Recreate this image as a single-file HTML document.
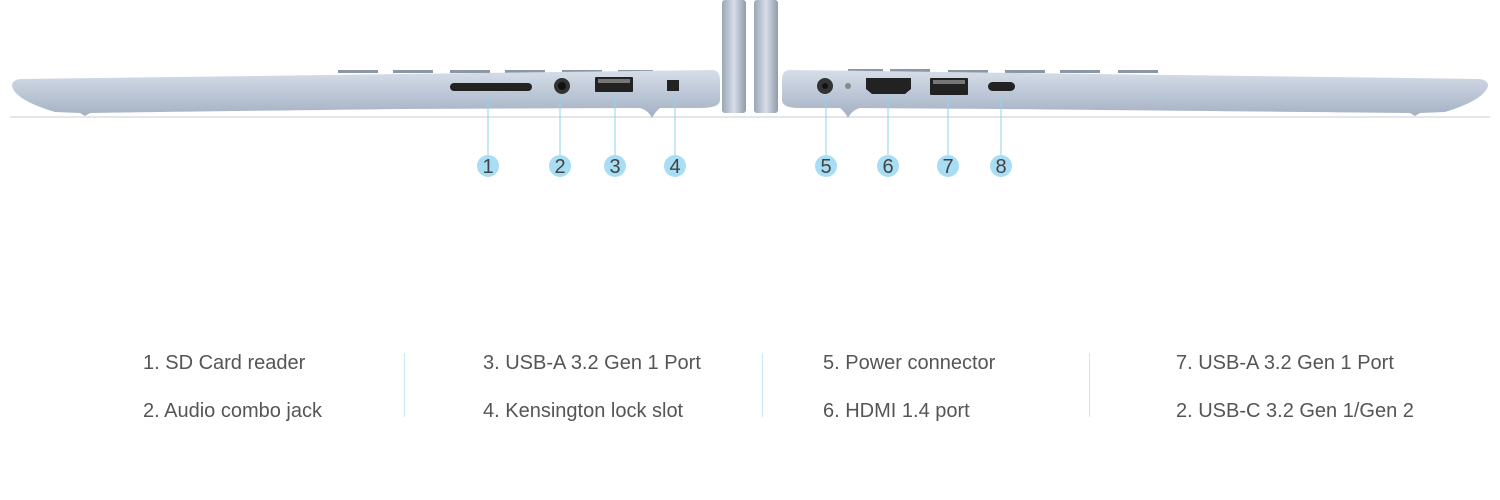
<!DOCTYPE html>
<html><head><style>
body{margin:0;width:1500px;height:500px;background:#fff;overflow:hidden;position:relative;font-family:"Liberation Sans",sans-serif}
.t{position:absolute;font-size:20px;color:#555;white-space:nowrap}
.d{position:absolute;width:1px;height:64px;top:353px;background:#c9e9f6}
</style></head><body>
<svg width="1500" height="200" style="position:absolute;left:0;top:0">
<defs>
<linearGradient id="g" x1="0" y1="0" x2="0" y2="1">
<stop offset="0" stop-color="#d6dee8"/><stop offset="0.5" stop-color="#bcc7d6"/><stop offset="1" stop-color="#a3b0c2"/></linearGradient>
<linearGradient id="l" x1="0" y1="0" x2="1" y2="0">
<stop offset="0" stop-color="#9aa6b6"/><stop offset="0.5" stop-color="#d7dee8"/><stop offset="1" stop-color="#8f9bab"/></linearGradient>
</defs>
<rect x="10" y="116" width="1480" height="2" fill="#e4e6e9"/>
<rect x="722" y="0" width="24" height="113" rx="3" fill="url(#l)"/>
<rect x="754" y="0" width="24" height="113" rx="3" fill="url(#l)"/>
<g fill="#8c97a6">
<rect x="338" y="70" width="40" height="3"/><rect x="393" y="70" width="40" height="3"/><rect x="450" y="70" width="40" height="3"/><rect x="505" y="70" width="40" height="3"/><rect x="562" y="70" width="40" height="3"/><rect x="618" y="70" width="35" height="3"/>
<rect x="848" y="69" width="35" height="3"/><rect x="890" y="69" width="40" height="3"/><rect x="948" y="70" width="40" height="3"/><rect x="1005" y="70" width="40" height="3"/><rect x="1060" y="70" width="40" height="3"/><rect x="1118" y="70" width="40" height="3"/>
</g>
<path d="M20 79 L712 70 Q720 70 720 80 L720 100 Q720 108 700 108 L660 108 Q655 112 652 118 Q648 110 640 108 L400 109 Q150 112 90 113 L85 116 L80 113 L55 112 Q15 100 12 86 Q12 80 20 79Z" fill="url(#g)"/>
<path d="M790 70 L1480 79 Q1488 80 1488 86 Q1484 100 1445 112 L1420 113 L1415 116 L1410 113 Q1300 112 1000 109 L860 108 Q852 110 848 118 Q845 112 840 108 L800 108 Q782 108 782 100 L782 80 Q782 70 790 70Z" fill="url(#g)"/>
<rect x="450" y="83" width="82" height="8" rx="4" fill="#222"/>
<circle cx="562" cy="86" r="8" fill="#333"/><circle cx="562" cy="86" r="4" fill="#111"/>
<rect x="595" y="77" width="38" height="15" rx="1" fill="#222"/><rect x="598" y="79" width="32" height="4" fill="#777"/>
<rect x="667" y="80" width="12" height="11" fill="#222"/>
<circle cx="825" cy="86" r="8" fill="#333"/><circle cx="825" cy="86" r="3" fill="#111"/>
<circle cx="848" cy="86" r="3" fill="#888"/>
<path d="M866 78 L911 78 L911 89 L905 94 L872 94 L866 89Z" fill="#222"/>
<rect x="930" y="78" width="38" height="17" rx="1" fill="#222"/><rect x="933" y="80" width="32" height="4" fill="#777"/>
<rect x="988" y="82" width="27" height="9" rx="4.5" fill="#222"/>
<g stroke="#8fd3ef" stroke-width="1">
<line x1="488" y1="95" x2="488" y2="156"/><line x1="560" y1="95" x2="560" y2="156"/><line x1="615" y1="95" x2="615" y2="156"/><line x1="675" y1="95" x2="675" y2="156"/>
<line x1="826" y1="95" x2="826" y2="156"/><line x1="888" y1="95" x2="888" y2="156"/><line x1="948" y1="95" x2="948" y2="156"/><line x1="1001" y1="95" x2="1001" y2="156"/>
</g>
<g fill="#a8def4">
<circle cx="488" cy="166" r="11"/><circle cx="560" cy="166" r="11"/><circle cx="615" cy="166" r="11"/><circle cx="675" cy="166" r="11"/>
<circle cx="826" cy="166" r="11"/><circle cx="888" cy="166" r="11"/><circle cx="948" cy="166" r="11"/><circle cx="1001" cy="166" r="11"/>
</g>
<g fill="#444" font-family="Liberation Sans, sans-serif" font-size="20" text-anchor="middle">
<text x="488" y="173">1</text><text x="560" y="173">2</text><text x="615" y="173">3</text><text x="675" y="173">4</text>
<text x="826" y="173">5</text><text x="888" y="173">6</text><text x="948" y="173">7</text><text x="1001" y="173">8</text>
</g>
</svg>
<div class="t" style="left:143px;top:352px">1. SD Card reader</div>
<div class="t" style="left:143px;top:400px">2. Audio combo jack</div>
<div class="t" style="left:483px;top:352px">3. USB-A 3.2 Gen 1 Port</div>
<div class="t" style="left:483px;top:400px">4. Kensington lock slot</div>
<div class="t" style="left:823px;top:352px">5. Power connector</div>
<div class="t" style="left:823px;top:400px">6. HDMI 1.4 port</div>
<div class="t" style="left:1176px;top:352px">7. USB-A 3.2 Gen 1 Port</div>
<div class="t" style="left:1176px;top:400px">2. USB-C 3.2 Gen 1/Gen 2</div>
<div class="d" style="left:404px"></div>
<div class="d" style="left:762px"></div>
<div class="d" style="left:1089px"></div>
</body></html>
